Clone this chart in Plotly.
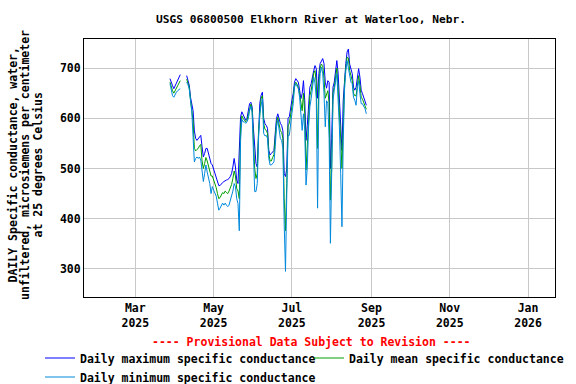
import datetime as dt
import plotly.graph_objects as go

start = dt.date(2025, 3, 28)
n_days = 154
dates = [start + dt.timedelta(days=i) for i in range(n_days)]

N = None
daily_max = [
    679, 670, 665, 659, 664, 672, 675, 680, 687, N, N, N, N,
    685, 675, 666, 642, 626, 615, 575, 560, 556, 560, 563, 566,
    543, 523, 530, 540, 540, 530, 518, 510, 507, 498, 488, 482,
    474, 466, 466, 470, 472, 474, 476, 477, 478, 480, 484, 490,
    503, 520, 503, 477, 470, 530, 603, 613, 608, 603, 596, 600,
    615, 629, 632, 623, 580, 546, 510, 503, 590, 630, 646, 652,
    600, 589, 586, 580, 536, 527, 530, 533, 536, 570, 600, 609,
    596, 590, 586, 575, 490, 484, 500, 600, 603, 623, 636, 649,
    672, 679, 675, 672, 656, 639, 649, 675, 636, 556, 586, 636,
    662, 669, 685, 695, 705, 699, 640, 689, 709, 715, 719, 709,
    672, 660, 675, 672, 500, 560, 662, 672, 695, 715, 690, 640,
    600, 536, 636, 682, 709, 732, 738, 708, 699, 689, 662, 656,
    662, 682, 699, 682, 656, 649, 642, 632, 626,
]
daily_mean = [
    672, 662, 655, 650, 656, 662, 665, 670, 675, N, N, N, N,
    678, 670, 662, 636, 620, 595, 540, 535, 538, 540, 545, 548,
    515, 500, 510, 522, 515, 505, 495, 485, 485, 478, 470, 462,
    450, 440, 442, 448, 452, 450, 455, 452, 450, 455, 460, 468,
    480, 495, 485, 460, 455, 440, 580, 605, 600, 597, 593, 596,
    608, 622, 628, 617, 545, 500, 480, 490, 575, 620, 640, 645,
    590, 578, 576, 570, 530, 515, 515, 522, 528, 560, 590, 602,
    588, 575, 572, 560, 440, 376, 470, 585, 590, 605, 625, 640,
    665, 672, 668, 662, 648, 630, 615, 650, 610, 497, 545, 610,
    645, 655, 675, 690, 695, 670, 540, 670, 700, 708, 705, 680,
    640, 648, 655, 630, 437, 500, 650, 662, 683, 700, 660, 620,
    560, 500, 600, 670, 700, 722, 720, 695, 685, 675, 650, 645,
    645, 670, 685, 665, 642, 638, 632, 626, 618,
]
daily_min = [
    669, 655, 645, 642, 649, 652, 655, 657, 659, N, N, N, N,
    672, 667, 658, 632, 613, 563, 513, 520, 523, 520, 523, 517,
    495, 474, 490, 507, 493, 484, 470, 450, 464, 457, 450, 445,
    431, 417, 421, 428, 431, 427, 431, 427, 424, 427, 435, 445,
    455, 470, 464, 440, 430, 376, 556, 598, 593, 593, 590, 593,
    599, 615, 624, 613, 503, 454, 454, 470, 560, 610, 626, 639,
    570, 565, 566, 560, 520, 507, 507, 510, 513, 543, 583, 596,
    576, 560, 556, 540, 388, 295, 450, 566, 566, 583, 610, 629,
    662, 669, 662, 659, 642, 613, 576, 609, 576, 467, 503, 583,
    623, 639, 662, 682, 670, 640, 421, 642, 689, 702, 689, 650,
    583, 635, 630, 560, 351, 470, 636, 656, 675, 689, 636, 583,
    490, 384, 556, 656, 695, 715, 700, 682, 672, 669, 642, 636,
    626, 662, 675, 649, 629, 629, 623, 619, 609,
]

title_text = "USGS 06800500 Elkhorn River at Waterloo, Nebr."
ytitle_lines = [
    "DAILY Specific conductance, water,",
    "unfiltered, microsiemens per centimeter",
    "at 25 degrees Celsius",
]
provisional = "---- Provisional Data Subject to Revision ----"
y_ticks = [300, 400, 500, 600, 700]

FONT = "DejaVu Sans Mono"
fs = 11.5

fig = go.Figure()
fig.add_trace(go.Scatter(x=dates, y=daily_max, mode="lines",
                         name="Daily maximum specific conductance",
                         line=dict(color="#0000FF", width=1)))
fig.add_trace(go.Scatter(x=dates, y=daily_mean, mode="lines",
                         name="Daily mean specific conductance",
                         line=dict(color="#00A000", width=1)))
fig.add_trace(go.Scatter(x=dates, y=daily_min, mode="lines",
                         name="Daily minimum specific conductance",
                         line=dict(color="#0088DD", width=1)))

fig.update_layout(
    width=576, height=384,
    margin=dict(l=84, r=21, t=39, b=87, autoexpand=False),
    paper_bgcolor="white", plot_bgcolor="white",
    font=dict(family=FONT, size=fs, color="black", weight="bold"),
    title=dict(text=title_text, x=311 / 576, xanchor="center",
               y=1 - 19 / 384, yanchor="middle", yref="container",
               font=dict(family=FONT, size=11.2, color="black", weight="bold")),
    showlegend=True,
    legend=dict(orientation="h", x=-44 / 471, xanchor="left",
                y=(297 - 343.5) / 258, yanchor="top", bgcolor="rgba(0,0,0,0)",
                font=dict(family=FONT, size=fs, color="black", weight="bold"),
                itemwidth=30, entrywidth=224, entrywidthmode="pixels"),
)

fig.update_xaxes(
    type="date",
    range=["2025-01-20", "2026-01-22"],
    tick0="2025-01-01", dtick="M2", tickformat="%b<br>%Y",
    showgrid=True, gridcolor="#C8C8C8", gridwidth=1,
    showline=True, linecolor="black", linewidth=1, mirror=True,
    ticks="", zeroline=False,
    tickfont=dict(family=FONT, size=fs, color="black", weight="bold"),
)
fig.update_yaxes(
    range=[244, 758],
    tickvals=y_ticks, ticktext=[str(v) for v in y_ticks],
    showgrid=True, gridcolor="#C8C8C8", gridwidth=1,
    showline=True, linecolor="black", linewidth=1, mirror=True,
    ticks="", zeroline=False,
    tickfont=dict(family=FONT, size=fs, color="black", weight="bold"),
)

# y-axis title as three rotated lines
for i, line in enumerate(ytitle_lines):
    fig.add_annotation(text=line, xref="paper", yref="paper",
                       x=(12.5 + 12.5 * i - 84) / 471, y=(297 - 165) / 258,
                       xanchor="center", yanchor="middle", textangle=-90,
                       showarrow=False,
                       font=dict(family=FONT, size=fs, color="black", weight="bold"))

fig.add_annotation(text=provisional, xref="paper", yref="paper",
                   x=(311 - 84) / 471, y=(297 - 342) / 258,
                   xanchor="center", yanchor="middle", showarrow=False,
                   font=dict(family=FONT, size=fs, color="red", weight="bold"))

fig.write_html("out.html",
               config={"displayModeBar": False, "staticPlot": True},
               post_script="document.body.style.margin='0';document.body.style.overflow='hidden';")
